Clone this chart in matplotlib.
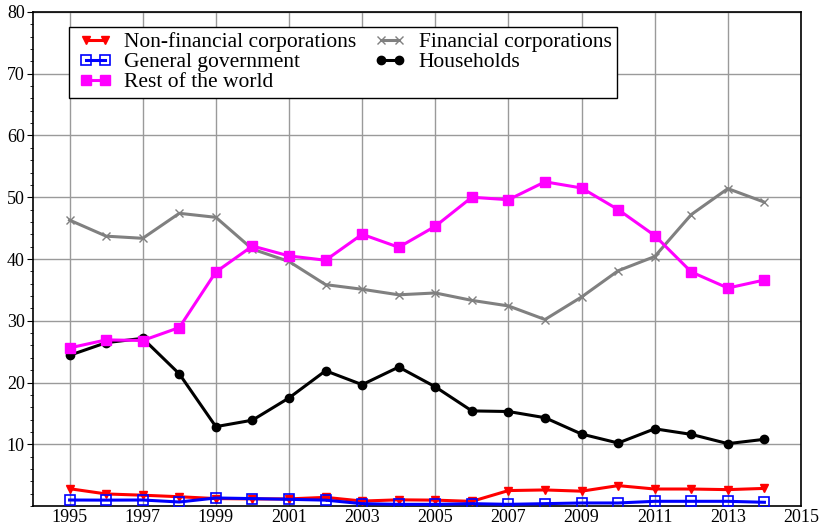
import matplotlib.pyplot as plt
from matplotlib.ticker import MultipleLocator
from matplotlib.legend_handler import HandlerLine2D

plt.rcParams['font.family'] = ['Liberation Serif', 'DejaVu Serif']

years = list(range(1995, 2015))

non_financial = [2.8, 1.95, 1.75, 1.5, 1.2, 1.15, 1.15, 1.4, 0.8, 1.0,
                 0.95, 0.75, 2.5, 2.6, 2.4, 3.3, 2.75, 2.75, 2.65, 2.85]
financial = [46.3, 43.7, 43.35, 47.4, 46.75, 41.6, 39.6, 35.85, 35.1, 34.2,
             34.5, 33.3, 32.4, 30.2, 33.85, 38.1, 40.4, 47.2, 51.4, 49.2]
government = [0.97, 0.95, 0.97, 0.65, 1.3, 1.2, 1.08, 0.95, 0.38, 0.27,
              0.27, 0.38, 0.27, 0.38, 0.49, 0.49, 0.76, 0.76, 0.76, 0.6]
households = [24.4, 26.45, 27.15, 21.4, 12.85, 13.9, 17.5, 21.9, 19.65, 22.5,
              19.3, 15.4, 15.3, 14.3, 11.65, 10.2, 12.5, 11.6, 10.1, 10.8]
rest_world = [25.6, 26.9, 26.8, 28.9, 37.9, 42.1, 40.5, 39.8, 44.0, 41.9,
              45.3, 50.0, 49.6, 52.5, 51.5, 48.0, 43.8, 37.9, 35.3, 36.6]

fig = plt.figure(figsize=(8.2, 5.26), dpi=100)
ax = fig.add_axes([33 / 820, 20 / 526, 768 / 820, 494 / 526])

l_nf, = ax.plot(years, non_financial, color='red', lw=2.2, marker='v', ms=6,
                label='Non-financial corporations', zorder=4)
l_fc, = ax.plot(years, financial, color='gray', lw=2.2, marker='x', ms=6, mew=1,
                label='Financial corporations', zorder=3)
l_gg, = ax.plot(years, government, color='blue', lw=2.2, marker='s', ms=7, mfc='none',
                mew=1.2, label='General government', zorder=4)
l_hh, = ax.plot(years, households, color='black', lw=2.2, marker='o', ms=6,
                label='Households', zorder=3)
l_rw, = ax.plot(years, rest_world, color='magenta', lw=2.2, marker='s', ms=7,
                label='Rest of the world', zorder=3)

ax.set_xlim(1994, 2015)
ax.set_ylim(0, 80)
ax.set_xticks(range(1995, 2016, 2))
ax.set_yticks(range(10, 81, 10))
ax.yaxis.set_minor_locator(MultipleLocator(2))
ax.tick_params(axis='x', length=0, labelsize=13, pad=2)
ax.tick_params(axis='y', which='major', length=4, direction='out', labelsize=13, pad=2)
ax.tick_params(axis='y', which='minor', length=2, direction='out')
ax.grid(True, which='major', color='#9a9a9a', lw=1)
ax.set_axisbelow(True)
for s in ax.spines.values():
    s.set_linewidth(1.2)

# column-major order so rows read: NF | FC, GG | HH, RW
handles = [l_nf, l_gg, l_rw, l_fc, l_hh]
leg = ax.legend(handles, [h.get_label() for h in handles], ncol=2,
                loc='upper left', bbox_to_anchor=(0.047, 0.97),
                borderaxespad=0, fontsize=15.5, handlelength=1.95, numpoints=2,
                labelspacing=0.0, columnspacing=0.6, handletextpad=0.35,
                fancybox=False, framealpha=1, edgecolor='black',
                borderpad=0.25,
                handler_map={h: HandlerLine2D(marker_pad=0.55) for h in handles})
leg.get_frame().set_linewidth(1)

fig.savefig('out.png', dpi=100)
